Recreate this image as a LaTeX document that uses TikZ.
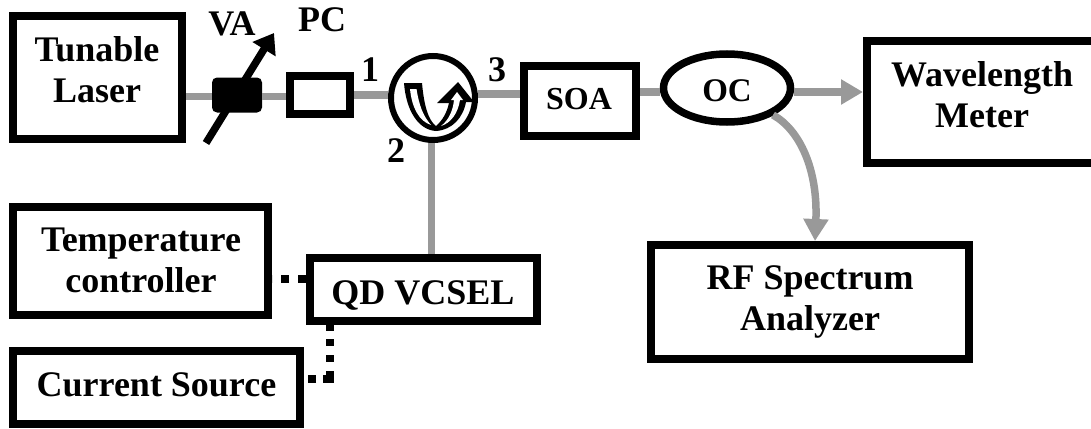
\documentclass[tikz,border=0pt]{standalone}
\usepackage{fontspec}
\setmainfont{Liberation Serif}
\usetikzlibrary{arrows.meta,shapes.geometric}
\definecolor{fib}{RGB}{153,153,153}
\tikzset{x=1pt,y=-1pt,
 box/.style={draw=black,line width=7.7pt,fill=white,rectangle,inner sep=0pt},
 lbl/.style={font=\bfseries\fontsize{36}{41}\selectfont,inner sep=0pt,align=center},
 fiber/.style={draw=fib,line width=7.5pt},
 fibarrow/.style={fiber,-{Triangle[length=22pt,width=24pt]}},
 ctrl/.style={draw=black,line width=8pt}}
\newcommand{\bx}[5]{\node[box,minimum width=#4-#2-7.7pt,minimum height=#5-#3-7.7pt] (#1) at ({(#2+#4)/2},{(#3+#5)/2}) {};}
\begin{document}
\begin{tikzpicture}
\useasboundingbox (0,0) rectangle (1091,428);
\coordinate (yA) at (0,96.5);
\coordinate (yB) at (0,95);
\coordinate (yC) at (0,94);
\coordinate (yD) at (0,92);
\coordinate (yT) at (0,278.5);
\coordinate (yS) at (0,379);
\coordinate (xF) at (431.5,0);
\coordinate (xD) at (330,0);
\coordinate (xR) at (815,0);
\coordinate (corner) at (330,379);
\coordinate (ocOut) at (773,115);
\bx{laser}{9}{12}{186}{143}
\bx{pc}{286}{72}{354}{118}
\node[circle,draw=black,line width=6pt,fill=white,minimum size=84pt,inner sep=0pt] (circ) at (433,98) {};
\bx{soa}{520}{62}{640}{140}
\node[ellipse,draw=black,line width=7.5pt,fill=white,minimum width=127pt,minimum height=68pt,inner sep=0pt] (oc) at (727,88) {};
\bx{wm}{863}{37}{1110}{167}
\bx{rf}{647}{241}{973}{363}
\bx{temp}{9}{203}{272}{319}
\bx{vcsel}{306}{254}{541}{325}
\bx{cur}{9}{347}{304}{428}
\node[rectangle,fill=black,rounded corners=5pt,minimum width=50pt,minimum height=35pt,inner sep=0pt] (va) at (237,95) {};
\coordinate (aTail) at (206,143);
\coordinate (aTip) at (274,33);
\draw[fiber] (laser.east |- yA) -- (va.west |- yA);
\draw[fiber] (va.east |- yA) -- (pc.west |- yA);
\draw[fiber] (pc.east |- yB) -- (circ.west |- yB);
\draw[fiber] (circ.east |- yC) -- (soa.west |- yC);
\draw[fiber] (soa.east |- yD) -- (oc.west |- yD);
\draw[fibarrow] (oc.east |- yD) -- (wm.west |- yD);
\draw[fiber] (circ.south -| xF) -- (vcsel.north -| xF);
\draw[fibarrow] (ocOut) .. controls (800,130) and (818,170) .. (rf.north -| xR);
\draw[black,line width=7.5pt,-{Triangle[length=19pt,width=26pt]}] (aTail) -- (aTip);
\draw[ctrl,dash pattern=on 8pt off 9pt] (vcsel.west |- yT) -- (temp.east |- yT);
\draw[ctrl,dash pattern=on 6pt off 8pt on 7pt off 9pt on 7pt off 9pt on 15pt off 7pt on 8pt off 100pt] (vcsel.south -| xD) -- (corner) -- (cur.east |- yS);
% circulator arrow
\fill[black] (404,83) -- (422,83) .. controls (424,105) and (428,120) .. (436,126) .. controls (443,120) and (447,112) .. (449,103) -- (437,103) -- (458,82) -- (474,102) -- (466,102) .. controls (463,118) and (452,130) .. (436,131) .. controls (418,130) and (406,110) .. (404,83) -- cycle;
\fill[white] (410,89) -- (416.5,89) .. controls (419,105) and (423,116) .. (431,125) .. controls (419,121) and (412,108) .. (410,89) -- cycle;
\fill[white] (441,126) .. controls (449,120) and (453,110) .. (454,100) -- (451,100) -- (457,92) -- (463,100) -- (460,100) .. controls (458,113) and (451,123) .. (441,126) -- cycle;
% texts
\node[lbl] (tLaser) at (97,70) {Tunable\\Laser};
\node[lbl] (tWM) at (982,95) {Wavelength\\Meter};
\node[lbl] (tRF) at (810,302) {RF Spectrum\\Analyzer};
\node[lbl] (tTemp) at (141,260) {Temperature\\controller};
\node[lbl] (tVC) at (423,295.5) {QD VCSEL};
\node[lbl] (tCur) at (156.5,385) {Current Source};
\node[lbl,font=\bfseries\fontsize{32}{38}\selectfont] (tSOA) at (579,99) {SOA};
\node[lbl,font=\bfseries\fontsize{33}{38}\selectfont] (tOC) at (727,91) {OC};
\node[lbl] (tVA) at (232,24) {VA};
\node[lbl] (tPC) at (322,20) {PC};
\node[lbl] (t1) at (370,70) {1};
\node[lbl] (t2) at (396,151) {2};
\node[lbl] (t3) at (497,70) {3};
\end{tikzpicture}
\end{document}
